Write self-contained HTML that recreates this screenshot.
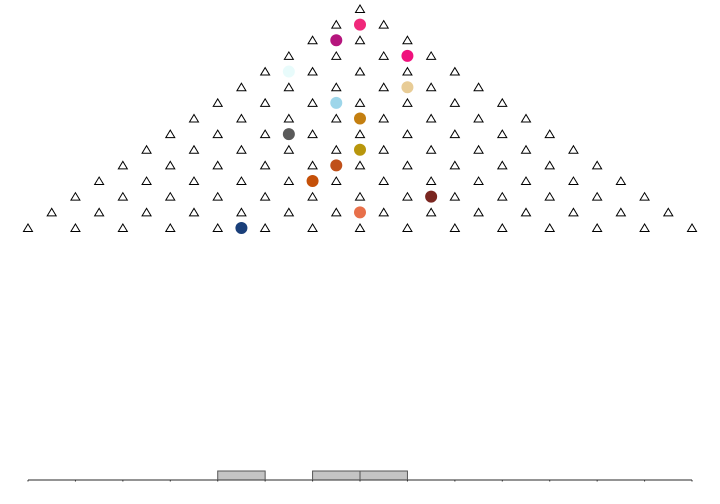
<!DOCTYPE html>
<html><head><meta charset="utf-8"><style>
html,body{margin:0;padding:0;background:#fff;width:720px;height:504px;overflow:hidden}
svg{display:block}
</style></head><body>
<svg id="chart" width="720" height="504" xmlns="http://www.w3.org/2000/svg"></svg>
<script>
const pegRows = 15;
const ballRows = [1,2,3,4,5,6,7,8,9,10,11,12,13,14];
const ballOffsets = [0,-1,2,-3,2,-1,0,-3,0,-1,-2,3,0,-5];
const ballColors = ["#f0287a","#b5157d","#f0117d","#e8fbfb","#e8cc96","#9dd6ea","#c47f10","#5a5a5a","#b8960c","#c0501a","#c55008","#7a2620","#e8704a","#1a3f7a"];
const binCounts = [0,0,0,0,1,0,1,1,0,0,0,0,0,0];

const svg = document.getElementById('chart');
const NS = 'http://www.w3.org/2000/svg';
const cx = 360, y0 = 9, dy = 15.64, dx = 47.43;
const xPos = half => cx + half * dx / 2;
const yPos = r => y0 + r * dy;
const histX = i => 28 + i * dx;
const baseY = 480, unitH = 9;
function mk(t, a){const e=document.createElementNS(NS,t);for(const k in a)e.setAttribute(k,a[k]);svg.appendChild(e);return e;}

for (let r = 0; r < pegRows; r++) {
  for (let k = 0; k <= r; k++) {
    const x = xPos(2*k - r), y = yPos(r);
    const p = mk('polygon',{points:`${x-4.5},${y+3.5} ${x+4.5},${y+3.5} ${x},${y-4}`,fill:'#fff',stroke:'#000','stroke-width':1});
    
    
  }
}
ballRows.forEach((r,i)=>{
  const c = mk('circle',{cx:xPos(ballOffsets[i]),cy:yPos(r),r:6,fill:ballColors[i]});
  
  
});
binCounts.forEach((n,i)=>{
  if(!n) return;
  const b = mk('rect',{x:histX(i),y:baseY-n*unitH,width:dx,height:n*unitH,fill:'#c4c4c4',stroke:'#555','stroke-width':1});
  
  
});
const ax = mk('line',{x1:28,x2:692,y1:baseY,y2:baseY,stroke:'#555','stroke-width':1.2});


for (let i = 0; i <= binCounts.length; i++) {
  const t = mk('line',{x1:histX(i),x2:histX(i),y1:baseY,y2:baseY+1.5,stroke:'#333','stroke-width':1});
  
  
}
</script>
</body></html>
